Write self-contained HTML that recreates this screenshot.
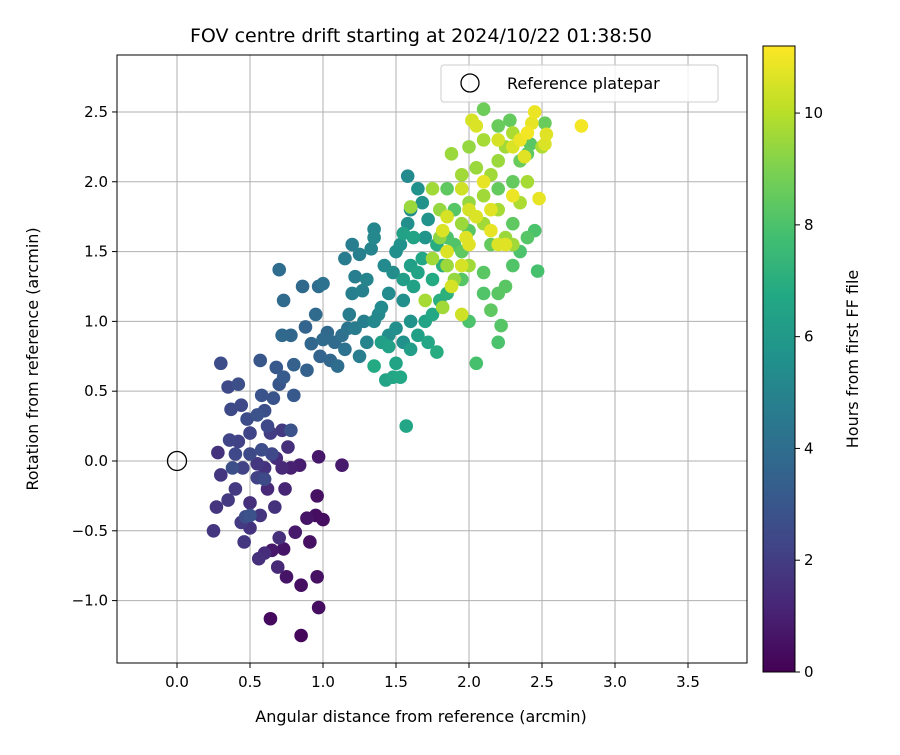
<!DOCTYPE html>
<html><head><meta charset="utf-8"><style>
body{margin:0;background:#fff;}
svg text{font-family:"DejaVu Sans","Liberation Sans",sans-serif;fill:#000;}
</style></head><body>
<svg id="chart" width="900" height="750" viewBox="0 0 900 750" xmlns="http://www.w3.org/2000/svg">
<defs>
<linearGradient id="viridis" x1="0" y1="1" x2="0" y2="0">
<stop offset="0" stop-color="#440154"/><stop offset="0.1" stop-color="#482475"/><stop offset="0.2" stop-color="#414487"/><stop offset="0.3" stop-color="#355f8d"/><stop offset="0.4" stop-color="#2a788e"/><stop offset="0.5" stop-color="#21918c"/><stop offset="0.6" stop-color="#22a884"/><stop offset="0.7" stop-color="#44bf70"/><stop offset="0.8" stop-color="#7ad151"/><stop offset="0.9" stop-color="#bddf26"/><stop offset="1" stop-color="#fde725"/>
</linearGradient>
<clipPath id="plotclip"><rect x="117" y="55" width="630" height="608"/></clipPath>
</defs>
<g id="grid"></g>
<g id="points" clip-path="url(#plotclip)"></g>
<rect x="117" y="55" width="630" height="608" fill="none" stroke="#000" stroke-width="1"/>
<g id="xticks"></g>
<g id="yticks"></g>
<text x="421" y="42" font-size="19" text-anchor="middle">FOV centre drift starting at 2024/10/22 01:38:50</text>
<text x="421" y="722" font-size="16" text-anchor="middle">Angular distance from reference (arcmin)</text>
<text x="38" y="359" font-size="16" text-anchor="middle" transform="rotate(-90 38 359)">Rotation from reference (arcmin)</text>
<g>
<rect x="441" y="65" width="277" height="37" rx="3" fill="#fff" fill-opacity="0.8" stroke="#ccc"/>
<circle cx="470" cy="83" r="9" fill="none" stroke="#000" stroke-width="1.3"/>
<text x="507" y="89" font-size="16">Reference platepar</text>
</g>
<rect x="763" y="46" width="32" height="626" fill="url(#viridis)" stroke="#000" stroke-width="1"/>
<g id="cticks"></g>
<text x="858" y="359" font-size="16" text-anchor="middle" transform="rotate(-90 858 359)">Hours from first FF file</text>
</svg>
<script>
const xTicks=[0.0,0.5,1.0,1.5,2.0,2.5,3.0,3.5];
const yTicks=[-1.0,-0.5,0.0,0.5,1.0,1.5,2.0,2.5];
const cTicks=[0,2,4,6,8,10];
const refPoint=[0,0];
const points=[
[0.64,-1.13,0.3],[0.85,-1.25,0.2],[0.97,-1.05,0.4],[0.96,-0.83,0.5],[0.85,-0.89,0.4],[0.75,-0.83,0.6],[0.73,-0.63,0.6],[0.65,-0.64,0.7],[0.91,-0.58,0.5],[0.95,-0.39,0.4],[1.0,-0.42,0.4],[0.96,-0.25,0.5],[0.89,-0.41,0.6],[0.97,0.03,0.7],[1.13,-0.03,0.8],[0.84,-0.03,0.9],[0.78,-0.05,1.0],[0.81,-0.51,0.8],
[0.69,-0.76,1.3],[0.56,-0.7,1.5],[0.6,-0.66,1.4],[0.7,-0.55,1.5],[0.67,-0.33,1.6],[0.57,-0.39,1.7],[0.5,-0.48,1.6],[0.46,-0.58,1.8],[0.44,-0.44,1.9],[0.27,-0.33,1.7],[0.25,-0.5,1.8],[0.35,-0.28,1.9],[0.3,-0.1,1.8],[0.28,0.06,1.6],[0.4,-0.2,1.9],[0.5,-0.3,1.5],[0.62,-0.2,1.3],[0.74,-0.2,1.2],[0.72,-0.05,1.3],[0.68,0.02,1.4],[0.6,-0.05,1.6],[0.55,-0.02,1.8],[0.72,0.22,1.9],[0.76,0.1,1.5],[0.64,0.2,2.0],
[0.3,0.7,2.6],[0.35,0.53,2.5],[0.42,0.55,2.7],[0.37,0.37,2.5],[0.44,0.4,2.4],[0.48,0.3,2.6],[0.55,0.33,2.8],[0.58,0.47,2.9],[0.6,0.36,2.7],[0.62,0.25,2.4],[0.5,0.2,2.3],[0.42,0.14,2.2],[0.36,0.15,2.3],[0.4,0.05,2.4],[0.45,-0.05,2.2],[0.5,0.05,2.5],[0.58,0.08,2.6],[0.57,0.72,3.0],[0.68,0.67,3.1],[0.7,0.55,3.0],[0.66,0.45,2.9],[0.73,0.6,3.2],[0.8,0.47,3.1],[0.78,0.22,2.8],[0.47,-0.4,2.6],[0.5,-0.39,2.8],[0.65,0.05,2.4],[0.55,-0.12,2.2],[0.6,-0.13,2.5],[0.38,-0.05,2.7],
[0.8,0.69,3.5],[0.72,0.9,3.8],[0.78,0.9,3.7],[0.89,0.65,3.5],[0.7,1.37,4.0],[0.73,1.15,3.9],[0.86,1.25,3.8],[0.88,0.96,3.6],[0.92,0.84,3.7],[0.95,1.05,3.9],[0.97,1.25,4.0],[1.0,1.27,4.2],[0.98,0.75,3.6],[1.03,0.92,3.8],[1.05,0.72,3.7],[1.08,0.85,3.9],[1.1,0.68,4.0],[1.13,0.9,4.1],[1.15,0.8,4.2],[1.17,0.95,4.3],[1.0,0.87,3.9],
[1.18,1.05,4.6],[1.2,1.2,4.8],[1.22,1.32,4.7],[1.27,1.22,4.9],[1.3,1.3,5.0],[1.15,1.45,4.6],[1.2,1.55,4.7],[1.25,1.48,4.8],[1.33,1.52,5.0],[1.35,1.6,5.2],[1.35,1.66,5.1],[1.28,1.0,4.8],[1.22,0.95,4.6],[1.25,0.75,4.7],[1.3,0.85,5.0],[1.38,1.05,5.2],[1.42,1.4,5.3],[1.45,1.2,5.3],[1.48,1.35,5.4],[1.5,1.5,5.5],[1.55,1.15,5.5],[1.53,1.55,5.6],[1.58,1.7,5.5],[1.6,1.8,5.4],[1.58,2.04,5.3],[1.65,1.95,5.6],[1.68,1.85,5.7],[1.7,1.6,5.8],[1.72,1.73,5.7],[1.5,0.95,5.5],[1.55,0.85,5.6],[1.6,1.0,5.7],[1.45,0.9,5.4],[1.4,1.1,5.3],[1.35,1.0,5.2],
[1.4,0.85,6.3],[1.45,0.82,6.4],[1.5,0.7,6.5],[1.48,0.6,6.6],[1.53,0.6,6.7],[1.43,0.58,6.5],[1.57,0.25,6.6],[1.35,0.68,6.8],[1.6,0.8,6.2],[1.65,0.9,6.3],[1.7,1.0,6.5],[1.75,1.05,6.7],[1.78,0.78,6.9],[1.72,0.85,6.6],[1.62,1.25,6.4],[1.65,1.35,6.5],[1.68,1.45,6.6],[1.75,1.3,6.8],[1.78,1.55,6.9],[1.82,1.4,7.0],[1.85,1.2,7.1],[1.8,1.15,7.0],[1.6,1.4,6.3],[1.55,1.3,6.2],[1.55,1.63,6.4],[1.62,1.6,6.5],
[1.85,1.6,8.0],[1.9,1.55,8.1],[1.95,1.3,8.2],[2.0,1.0,8.0],[2.05,0.7,7.9],[2.1,1.2,8.1],[2.15,1.08,8.4],[2.2,1.2,8.3],[2.2,0.85,8.0],[2.22,0.97,8.2],[2.25,1.25,8.3],[2.3,1.4,8.1],[2.35,1.5,8.0],[2.4,1.6,8.2],[2.45,1.65,8.0],[2.47,1.36,7.9],[2.1,1.35,8.3],[1.95,1.5,8.4],[2.2,1.95,8.5],[2.3,2.0,8.5],[2.35,2.15,8.6],[2.4,2.2,8.4],[2.42,2.27,8.3],[2.2,2.4,8.6],[2.28,2.44,8.5],[2.1,2.52,8.7],[2.52,2.42,8.6],[1.9,1.8,8.2],[1.85,1.95,8.4],[2.0,1.65,8.3],[2.15,1.55,8.5],[2.3,1.7,8.4],
[1.88,2.2,9.5],[1.95,2.05,9.6],[2.0,2.25,9.4],[2.05,2.1,9.5],[2.1,2.3,9.7],[2.15,2.05,9.6],[2.2,2.15,9.5],[2.25,2.25,9.6],[2.3,2.35,9.8],[2.1,1.9,9.6],[2.0,1.85,9.4],[1.95,1.7,9.5],[1.8,1.6,9.3],[1.75,1.45,9.6],[1.85,1.4,9.5],[1.9,1.3,9.4],[2.0,1.4,9.6],[1.7,1.15,9.7],[1.82,1.1,9.6],[2.35,1.85,9.8],[2.4,2.0,9.7],[2.5,2.25,9.8],[1.6,1.82,9.5],[1.75,1.95,9.6],[1.8,1.8,9.4],[2.1,1.7,9.6],[2.2,1.8,9.7],[2.25,1.6,9.5],[2.3,1.55,9.6],
[2.77,2.4,11.0],[2.45,2.5,10.9],[2.43,2.42,10.8],[2.53,2.34,10.7],[2.52,2.27,10.6],[2.38,2.18,10.7],[2.48,1.88,10.8],[2.3,2.25,10.6],[2.02,2.44,10.5],[2.05,2.4,10.6],[2.2,2.3,10.5],[1.95,1.95,10.4],[2.0,1.8,10.5],[2.05,1.75,10.6],[1.98,1.6,10.7],[1.85,1.5,10.6],[1.88,1.25,10.5],[1.95,1.05,10.4],[2.0,1.55,10.7],[2.15,1.65,10.8],[2.2,1.55,10.6],[2.25,1.55,10.7],[2.3,1.9,10.9],[2.1,2.0,10.8],[1.85,1.75,10.5],[1.82,1.65,10.6],[1.95,1.4,10.5],[2.4,2.35,11.0],[2.35,2.3,10.9],[2.15,1.8,10.7]
];
const NS="http://www.w3.org/2000/svg";
const X0=117,X1=747,Y0=55,Y1=663;
const xmin=-0.411,xmax=3.904,ymin=-1.447,ymax=2.908;
const cmin=0,cmax=11.2;
function sx(v){return X0+(v-xmin)/(xmax-xmin)*(X1-X0);}
function sy(v){return Y1-(v-ymin)/(ymax-ymin)*(Y1-Y0);}
function sc(v){return 672-(v-cmin)/(cmax-cmin)*626;}
const vstops=[[68,1,84],[72,36,117],[65,68,135],[53,95,141],[42,120,142],[33,145,140],[34,168,132],[68,191,112],[122,209,81],[189,223,38],[253,231,37]];
function viridis(h){let t=Math.max(0,Math.min(1,(h-cmin)/(cmax-cmin)))*10;let i=Math.min(9,Math.floor(t));let f=t-i;let a=vstops[i],b=vstops[i+1];return 'rgb('+a.map((c,k)=>Math.round(c+(b[k]-c)*f)).join(',')+')';}
function mk(tag,attrs,parent){const e=document.createElementNS(NS,tag);for(const k in attrs)e.setAttribute(k,attrs[k]);parent.appendChild(e);return e;}
const grid=document.getElementById('grid'),xt=document.getElementById('xticks'),yt=document.getElementById('yticks'),ct=document.getElementById('cticks');
xTicks.forEach(v=>{const x=sx(v);
const g=mk('line',{x1:x,x2:x,y1:Y0,y2:Y1,stroke:'#b0b0b0','stroke-width':1},grid);


const t=mk('line',{x1:x,x2:x,y1:Y1,y2:Y1+5,stroke:'#000'},xt);


const l=mk('text',{x:x,y:Y1+24,'font-size':15,'text-anchor':'middle'},xt);l.textContent=v.toFixed(1);

});
yTicks.forEach(v=>{const y=sy(v);
const g=mk('line',{x1:X0,x2:X1,y1:y,y2:y,stroke:'#b0b0b0','stroke-width':1},grid);


const t=mk('line',{x1:X0-5,x2:X0,y1:y,y2:y,stroke:'#000'},yt);


const l=mk('text',{x:X0-9,y:y+5,'font-size':15,'text-anchor':'end'},yt);l.textContent=v.toFixed(1).replace('-','\u2212');

});
cTicks.forEach(v=>{const y=sc(v);
const t=mk('line',{x1:795,x2:800,y1:y,y2:y,stroke:'#000'},ct);


const l=mk('text',{x:804,y:y+5,'font-size':15},ct);l.textContent=String(v);

});
const pg=document.getElementById('points');
points.slice().sort((a,b)=>a[2]-b[2]).forEach(p=>{
const c=mk('circle',{cx:sx(p[0]),cy:sy(p[1]),r:6.8,fill:viridis(p[2])},pg);

});
const ref=mk('circle',{cx:sx(refPoint[0]),cy:sy(refPoint[1]),r:9.5,fill:'none',stroke:'#000','stroke-width':1.3},pg);


</script>
</body></html>
